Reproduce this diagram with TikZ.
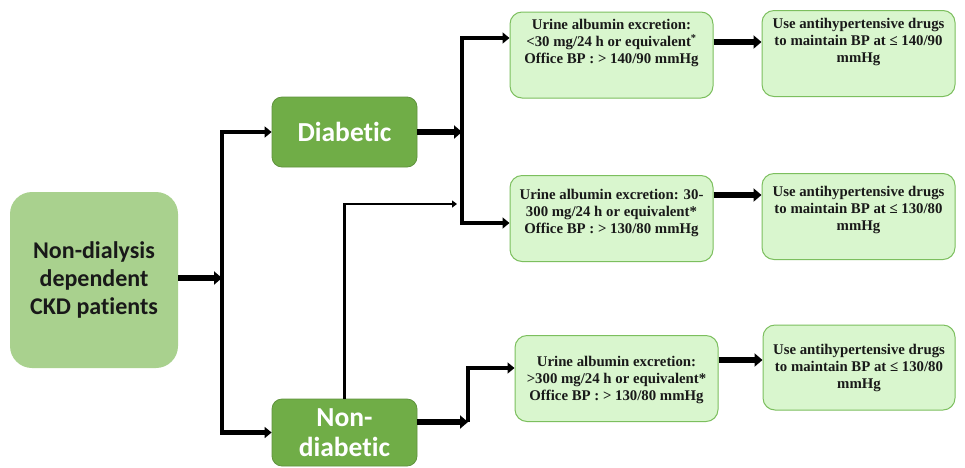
\documentclass[tikz,border=0pt]{standalone}
\usepackage{fontspec}
\newfontfamily\calibrifont[Ligatures=NoCommon]{Carlito}
\newfontfamily\timesfont{Liberation Serif}
\usetikzlibrary{arrows.meta,calc}
\definecolor{LeafGreen}{HTML}{70AD47}
\definecolor{PaleGreen}{HTML}{A9D18E}
\definecolor{MintGreen}{HTML}{D9F6CE}
\definecolor{EdgeGreen}{HTML}{7CBF5E}
\tikzset{
  ckdbox/.style={fill=PaleGreen, rounded corners=22pt, minimum width=168pt,
    minimum height=176pt, align=center, inner sep=0pt,
    font=\calibrifont\bfseries\fontsize{24}{28}\selectfont, text=black!90},
  groupbox/.style={fill=LeafGreen, draw=LeafGreen!85!black, line width=0.8pt,
    rounded corners=10pt, minimum width=145pt, minimum height=#1,
    align=center, inner sep=0pt, text=white,
    font=\calibrifont\bfseries\fontsize{27.5}{30}\selectfont},
  groupbox/.default={70pt},
  critbox/.style={fill=MintGreen, draw=EdgeGreen, line width=1pt,
    rounded corners=12pt, minimum width=#1, minimum height=86pt},
  critbox/.default={203pt},
  crittext/.style={align=center, inner sep=0pt, text=black!90,
    font=\timesfont\bfseries\fontsize{14.8}{17}\selectfont},
  fatarr/.style={-{Triangle[length=8pt,width=13pt]}, line width=5.5pt},
  trunkarr/.style={-{Triangle[length=7pt,width=11pt]}, line width=4.5pt},
  thinarr/.style={-{Triangle[length=5pt,width=7pt]}, line width=2.8pt},
}

\begin{document}
\begin{tikzpicture}[x=1pt, y=-1pt]
  \fill[white] (0,0) rectangle (965,467);
  \useasboundingbox (0,0) rectangle (965,467);

  % left column
  \node[ckdbox] (ckd) at (94,280) {Non-dialysis\\dependent\\CKD patients};
  \node[groupbox] (diab) at (344.5,132) {Diabetic};
  \node[groupbox=67pt] (nondiab) at (344.5,432.5) {Non-\\diabetic};

  % criteria boxes
  \node[critbox] (b1) at (611.5,55) {};
  \node[crittext] (b1txt) at ($(b1)+(0,-12)$)
    {Urine albumin excretion:\\<30 mg/24 h or equivalent\textsuperscript{*}\\Office BP : > 140/90 mmHg};
  \node[critbox] (b2) at (611.5,218.5) {};
  \node[crittext] (b2txt) at ($(b2)+(0,-5.5)$)
    {Urine albumin excretion: 30-\\300 mg/24 h or equivalent*\\Office BP : > 130/80 mmHg};
  \node[critbox] (b3) at (616.5,378.5) {};
  \node[crittext] (b3txt) at ($(b3)+(0,1.5)$)
    {Urine albumin excretion:\\>300 mg/24 h or equivalent*\\Office BP : > 130/80 mmHg};

  % target boxes
  \node[critbox=193pt] (r1) at (858.5,53.5) {};
  \node[crittext] (r1txt) at ($(r1)+(0,-11.5)$)
    {Use antihypertensive drugs\\to maintain BP at ≤ 140/90\\mmHg};
  \node[critbox=193pt] (r2) at (858.5,216.5) {};
  \node[crittext] (r2txt) at ($(r2)+(0,-6.5)$)
    {Use antihypertensive drugs\\to maintain BP at ≤ 130/80\\mmHg};
  \node[critbox=192pt, minimum height=85pt] (r3) at (859,367.5) {};
  \node[crittext] (r3txt) at (r3)
    {Use antihypertensive drugs\\to maintain BP at ≤ 130/80\\mmHg};

  % junctions
  \coordinate (split) at (222,278);
  \coordinate (dsplit) at (462,132);
  \coordinate (nsplit) at (468,422);
  \coordinate (cross) at (457,204);

  \draw[fatarr] (ckd.east |- split) -- (split);
  \draw[trunkarr] (split) |- (diab.west);
  \draw[trunkarr] (split) |- (nondiab.west);

  \draw[fatarr] (diab.east) -- (dsplit);
  \draw[trunkarr] (dsplit) |- ([yshift=17pt]b1.west);
  \draw[trunkarr] (dsplit) |- ([yshift=-4.5pt]b2.west);

  \draw[fatarr] (nondiab.east |- nsplit) -- (nsplit);
  \draw[trunkarr] (nsplit) |- ([yshift=10.5pt]b3.west);
  \draw[thinarr] (nondiab.north) |- (cross);

  \draw[fatarr] ([yshift=13pt]b1.east) -- ([yshift=13pt]b1.east -| r1.west);
  \draw[fatarr] ([yshift=23.5pt]b2.east) -- ([yshift=23.5pt]b2.east -| r2.west);
  \draw[fatarr] ([yshift=18.5pt]b3.east) -- ([yshift=18.5pt]b3.east -| r3.west);
\end{tikzpicture}
\end{document}
